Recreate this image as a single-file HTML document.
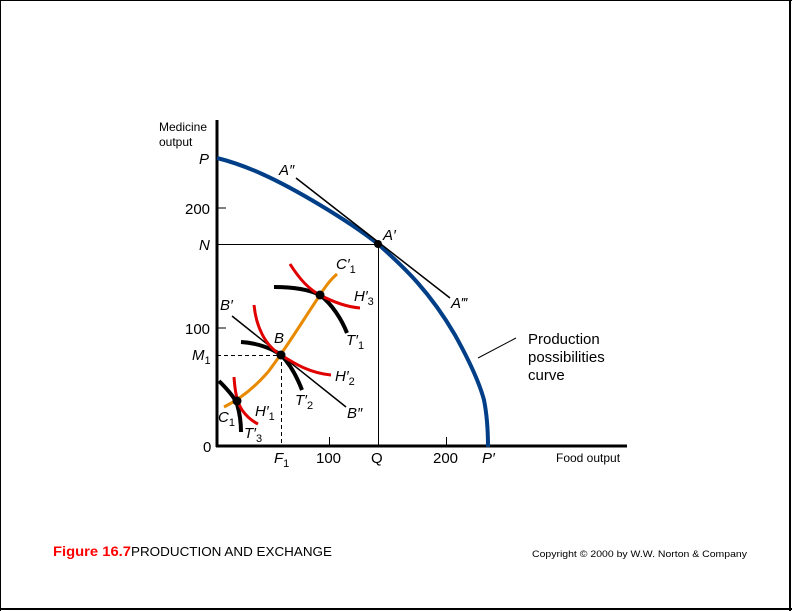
<!DOCTYPE html>
<html><head><meta charset="utf-8"><style>
html,body{margin:0;padding:0;background:#fff;}
svg{display:block;}
text{font-family:"Liberation Sans",Arial,sans-serif;}
.it{font-style:italic;font-size:15px;}
.n{font-size:15px;}
.s{font-style:normal;font-size:11px;}
</style></head><body>
<svg width="792" height="611" viewBox="0 0 792 611" xmlns="http://www.w3.org/2000/svg">
<rect x="0" y="0" width="792" height="611" fill="#fff"/>
<line x1="0.5" y1="0" x2="0.5" y2="611" stroke="#000"/>
<line x1="0" y1="0.5" x2="792" y2="0.5" stroke="#000"/>
<line x1="790" y1="0" x2="790" y2="611" stroke="#000" stroke-width="2"/>
<line x1="0" y1="609" x2="792" y2="609" stroke="#000" stroke-width="2"/>

<line x1="217" y1="120" x2="217" y2="447" stroke="#000" stroke-width="3"/>
<line x1="216" y1="446" x2="627" y2="446" stroke="#000" stroke-width="3"/>
<line x1="217" y1="208" x2="226" y2="208" stroke="#000"/>
<line x1="217" y1="328" x2="226" y2="328" stroke="#000"/>
<line x1="329.5" y1="437" x2="329.5" y2="446" stroke="#000"/>
<line x1="446.5" y1="437" x2="446.5" y2="446" stroke="#000"/>

<line x1="217" y1="244.5" x2="378" y2="244.5" stroke="#000"/>
<line x1="378.5" y1="244" x2="378.5" y2="446" stroke="#000"/>
<line x1="217" y1="355.5" x2="281" y2="355.5" stroke="#000" stroke-dasharray="4,3"/>
<line x1="281.5" y1="355" x2="281.5" y2="446" stroke="#000" stroke-dasharray="4,3"/>

<path d="M217,158 C245,165 275,178 320,205 C350,223 368,236 378,244 C405,268 430,292 455,335 C470,362 480,385 484,400 C487,415 488,430 488,447" fill="none" stroke="#003f87" stroke-width="4"/>
<line x1="296" y1="178" x2="450" y2="298" stroke="#000" stroke-width="1.5"/>
<circle cx="378" cy="244" r="4" fill="#000"/>
<line x1="478" y1="358" x2="516" y2="338" stroke="#000"/>

<path d="M224,407 C240,399 255,387 268,372 C285,350 300,325 318,298 C325,287 330,280 337,274" fill="none" stroke="#e88a00" stroke-width="3"/>
<line x1="232" y1="316" x2="346" y2="407" stroke="#000" stroke-width="1.5"/>
<path d="M241,342 C258,343 273,349 281,355 C290,364 297,377 302,390" fill="none" stroke="#000" stroke-width="4"/>
<path d="M254,305 C256,325 264,345 281,355 C295,364 310,373 331,375" fill="none" stroke="#e00000" stroke-width="3"/>
<path d="M274,287 C295,287 310,290 320,295 C332,304 342,320 347,333" fill="none" stroke="#000" stroke-width="4"/>
<path d="M290,264 C300,280 310,290 320,295 C335,303 348,307 360,308" fill="none" stroke="#e00000" stroke-width="3"/>
<path d="M219,381 C228,390 235,398 237,404 C240,414 241,424 241,432" fill="none" stroke="#000" stroke-width="4"/>
<path d="M234,377 C235,392 237,402 242,410 C247,417 252,421 258,424" fill="none" stroke="#e00000" stroke-width="3"/>
<circle cx="281" cy="355" r="4.5" fill="#000"/>
<circle cx="320" cy="295" r="4.5" fill="#000"/>
<circle cx="237" cy="401" r="4.5" fill="#000"/>

<text x="159" y="131" font-size="12">Medicine</text>
<text x="159" y="146" font-size="12">output</text>
<text x="199" y="164" class="it">P</text>
<text x="185" y="214" class="n">200</text>
<text x="199" y="250" class="it">N</text>
<text x="185" y="334" class="n">100</text>
<text x="192" y="360" class="it">M<tspan class="s" dy="4">1</tspan></text>
<text x="203" y="452" class="n">0</text>
<text x="279" y="175" class="it">A″</text>
<text x="383" y="240" class="it">A′</text>
<text x="451" y="308" class="it">A‴</text>
<text x="528" y="344" class="n">Production</text>
<text x="528" y="362" class="n">possibilities</text>
<text x="528" y="380" class="n">curve</text>
<text x="336" y="269" class="it">C′<tspan class="s" dy="4">1</tspan></text>
<text x="354" y="301" class="it">H′<tspan class="s" dy="4">3</tspan></text>
<text x="220" y="310" class="it">B′</text>
<text x="274" y="343" class="it">B</text>
<text x="346" y="345" class="it">T′<tspan class="s" dy="4">1</tspan></text>
<text x="335" y="381" class="it">H′<tspan class="s" dy="4">2</tspan></text>
<text x="295" y="405" class="it">T′<tspan class="s" dy="4">2</tspan></text>
<text x="347" y="418" class="it">B″</text>
<text x="218" y="422" class="it">C<tspan class="s" dy="4">1</tspan></text>
<text x="255" y="416" class="it">H′<tspan class="s" dy="4">1</tspan></text>
<text x="244" y="438" class="it">T′<tspan class="s" dy="4">3</tspan></text>
<text x="274" y="463" class="it">F<tspan class="s" dy="4">1</tspan></text>
<text x="316" y="463" class="n">100</text>
<text x="371" y="463" class="n">Q</text>
<text x="433" y="463" class="n">200</text>
<text x="482" y="463" class="it">P′</text>
<text x="556" y="462" font-size="12">Food output</text>

<text x="53" y="556" font-size="14" font-weight="bold" fill="#ff0000" textLength="78" lengthAdjust="spacingAndGlyphs">Figure 16.7</text>
<text x="131" y="556" font-size="13" textLength="201" lengthAdjust="spacingAndGlyphs">PRODUCTION AND EXCHANGE</text>
<text x="532" y="557" font-size="9.5" textLength="215" lengthAdjust="spacingAndGlyphs">Copyright © 2000 by W.W. Norton &amp; Company</text>
</svg>
</body></html>
